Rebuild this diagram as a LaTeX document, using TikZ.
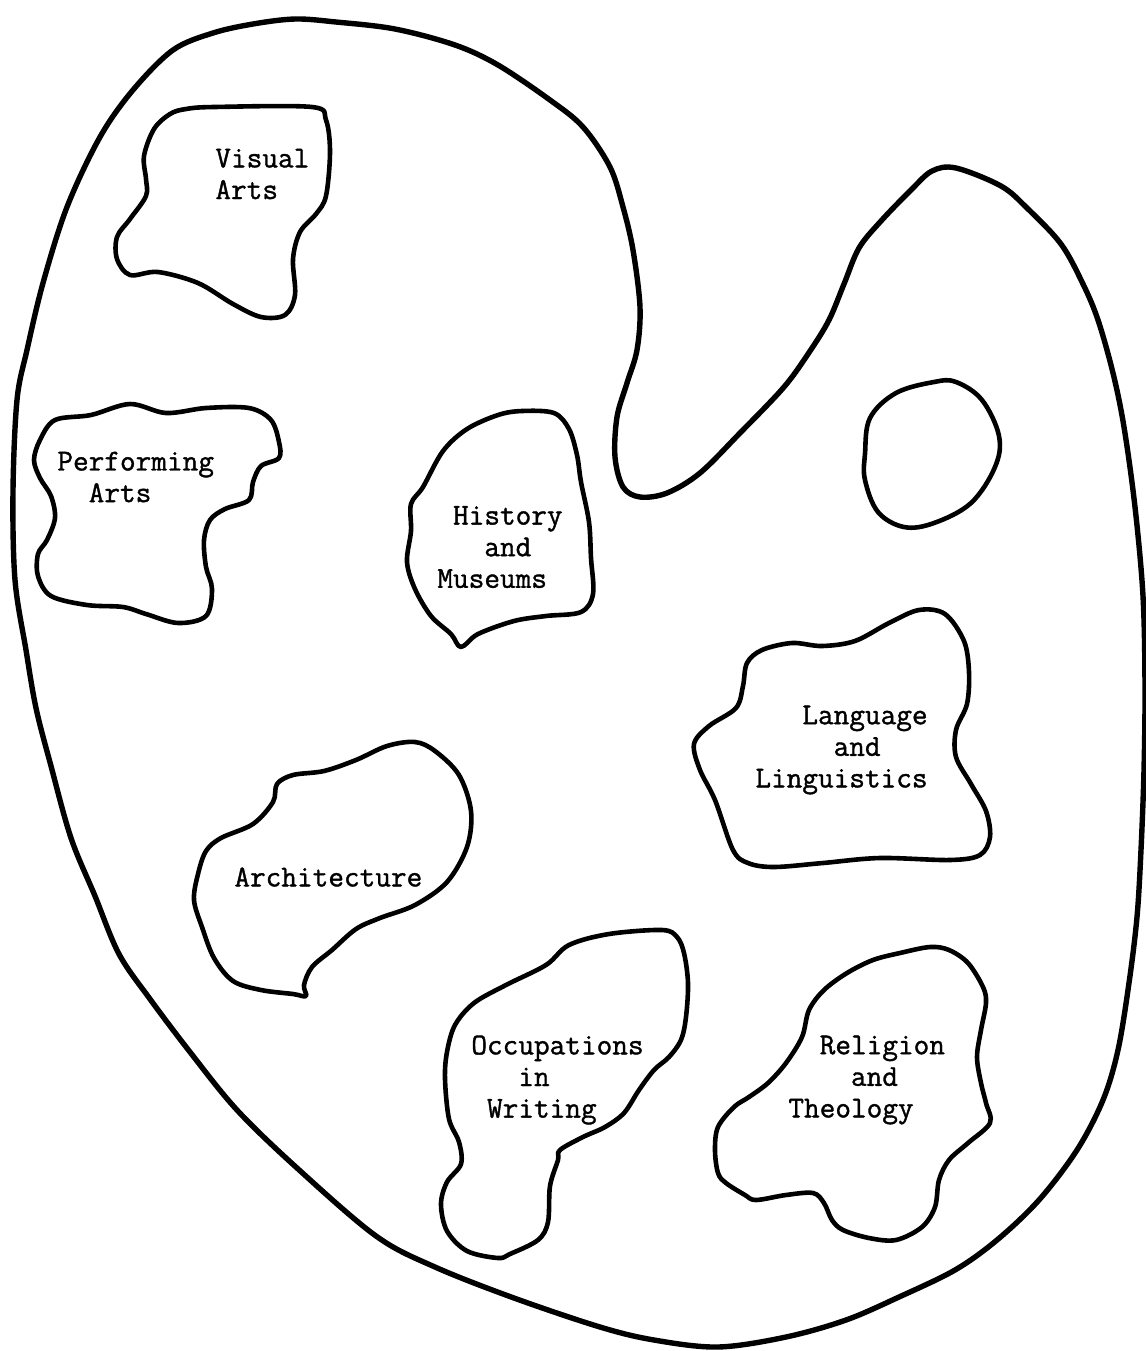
\documentclass[tikz,border=0pt]{standalone}
\usepackage{fontspec}
\usepackage{tikz}
\newfontfamily\typer{Latin Modern Mono}[FakeBold=1.2]
\begin{document}
\begin{tikzpicture}[x=0.5pt,y=-0.5pt,line join=round]
  \tikzset{palette/.style={draw=black,line width=2.7pt},
    blob/.style={draw=black,line width=2.3pt},
    area/.style={font=\fontsize{15.2}{15.8}\selectfont\typer,align=left,inner sep=0pt,anchor=west}}
  \useasboundingbox (0,0) rectangle (1146,1351);
  % the palette
  \draw[palette] plot[smooth cycle,tension=0.55] coordinates {
    (295,19) (336,22) (395,29) (455,45) (498,65) (550,100) (583,127) (610,167)
    (623,207) (633,250) (640,307) (637,350) (627,383) (617,417) (615,457)
    (623,487) (640,497) (667,493) (700,473) (740,433) (784,387) (810,351)
    (829,320) (844,284) (859,248) (881,221) (911,190) (932,171) (956,168)
    (1001,186) (1027,208) (1061,244) (1083,284) (1098,320) (1113,373)
    (1124,427) (1135,507) (1143,596) (1145,686) (1144,770) (1141,850)
    (1137,917) (1129,983) (1118,1050) (1103,1100) (1077,1150) (1039,1200)
    (997,1240) (955,1270) (899,1297) (846,1320) (786,1337) (718,1347)
    (654,1340) (600,1327) (514,1298) (435,1267) (376,1236) (297,1168)
    (237,1110) (190,1052) (150,999) (119,954) (95,896) (71,838) (51,766)
    (36,708) (26,650) (15,580) (13,491) (17,400) (27,350) (43,283) (67,207)
    (100,137) (133,90) (173,50) (213,33) (253,24)};
  % thumb hole
  \draw[blob] plot[smooth cycle,tension=0.6] coordinates {
    (870,418) (896,393) (934,382) (956,382) (982,400) (999,436) (995,467)
    (971,503) (934,523) (904,527) (878,512) (865,480) (865,454)};
  % paint blobs
  \draw[blob] plot[smooth cycle,tension=0.55] coordinates {
    (186,109) (214,107) (312,107) (326,120) (330,152) (326,196) (316,214)
    (300,232) (293,259) (295,295) (285,315) (261,317) (233,304) (198,283)
    (158,272) (130,275) (117,259) (117,237) (130,219) (146,196) (146,179)
    (144,156) (154,129) (170,114)};
  \draw[blob] plot[smooth cycle,tension=0.55] coordinates {
    (40,440) (55,420) (91,415) (130,404) (166,413) (206,408) (249,408)
    (271,420) (279,442) (279,458) (261,466) (253,482) (249,500) (225,509)
    (210,520) (204,540) (206,567) (212,589) (206,616) (178,623) (146,614)
    (123,607) (87,605) (51,596) (38,576) (38,554) (47,540) (55,518) (51,496)
    (40,478) (34,460)};
  \draw[blob] plot[smooth cycle,tension=0.55] coordinates {
    (423,487) (443,451) (467,429) (498,415) (522,411) (554,413) (569,429)
    (577,455) (581,482) (589,522) (591,558) (593,594) (581,612) (546,616)
    (514,621) (478,634) (461,647) (451,634) (431,616) (415,589) (407,562)
    (411,531) (411,504)};
  \draw[blob] plot[smooth cycle,tension=0.55] coordinates {
    (694,744) (709,726) (736,708) (743,686) (747,663) (762,650) (792,643)
    (822,646) (855,641) (889,623) (919,610) (945,614) (964,641) (969,672)
    (967,704) (956,730) (956,757) (971,784) (986,811) (990,837) (980,855)
    (950,860) (880,858) (823,863) (774,867) (748,863) (733,850) (715,800)
    (700,770)};
  \draw[blob] plot[smooth cycle,tension=0.55] coordinates {
    (198,874) (206,851) (221,838) (253,824) (273,802) (277,784) (293,775)
    (324,771) (356,760) (387,746) (415,742) (435,751) (459,775) (471,811)
    (467,847) (447,882) (415,905) (380,918) (356,929) (332,950) (312,967)
    (304,985) (306,996) (293,994) (261,990) (233,981) (214,958) (202,927)
    (194,900)};
  \draw[blob] plot[smooth cycle,tension=0.55] coordinates {
    (447,1052) (455,1025) (474,1003) (506,985) (546,965) (569,945)
    (609,934) (662,930) (677,937) (684,953) (688,983) (686,1017) (681,1040)
    (669,1057) (654,1070) (639,1090) (624,1113) (605,1127) (583,1137)
    (560,1150) (558,1160) (550,1186) (548,1222) (538,1240) (510,1254)
    (498,1258) (467,1251) (447,1231) (441,1204) (447,1182) (461,1164)
    (459,1142) (449,1119) (445,1079)};
  \draw[blob] plot[smooth cycle,tension=0.55] coordinates {
    (809,1010) (824,990) (847,973) (873,960) (900,953) (930,947) (949,950)
    (968,963) (983,987) (986,1003) (981,1030) (977,1057) (981,1083)
    (986,1103) (990,1123) (968,1143) (949,1160) (939,1180) (935,1207)
    (922,1227) (896,1240) (869,1238) (843,1230) (832,1220) (824,1203)
    (813,1193) (786,1195) (756,1200) (745,1195) (726,1183) (718,1173)
    (715,1150) (718,1127) (734,1107) (749,1097) (768,1083) (786,1063)
    (802,1037)};
  % labels
  \node[area] (visual) at (215,174) {Visual\\Arts};
  \node[area] (performing) at (57,477) {Performing\\\hphantom{xx}Arts};
  \node[area] (history) at (437,547) {\hphantom{x}History\\\hphantom{xxx}and\\Museums};
  \node[area] (language) at (755,750) {\hphantom{xxx}Language\\\hphantom{xxxxx}and\\Linguistics};
  \node[area] (architecture) at (234,877) {Architecture};
  \node[area] (writing) at (471,1080) {Occupations\\\hphantom{xxx}in\\\hphantom{x}Writing};
  \node[area] (religion) at (788,1080) {\hphantom{xx}Religion\\\hphantom{xxxx}and\\Theology};
\end{tikzpicture}
\end{document}
